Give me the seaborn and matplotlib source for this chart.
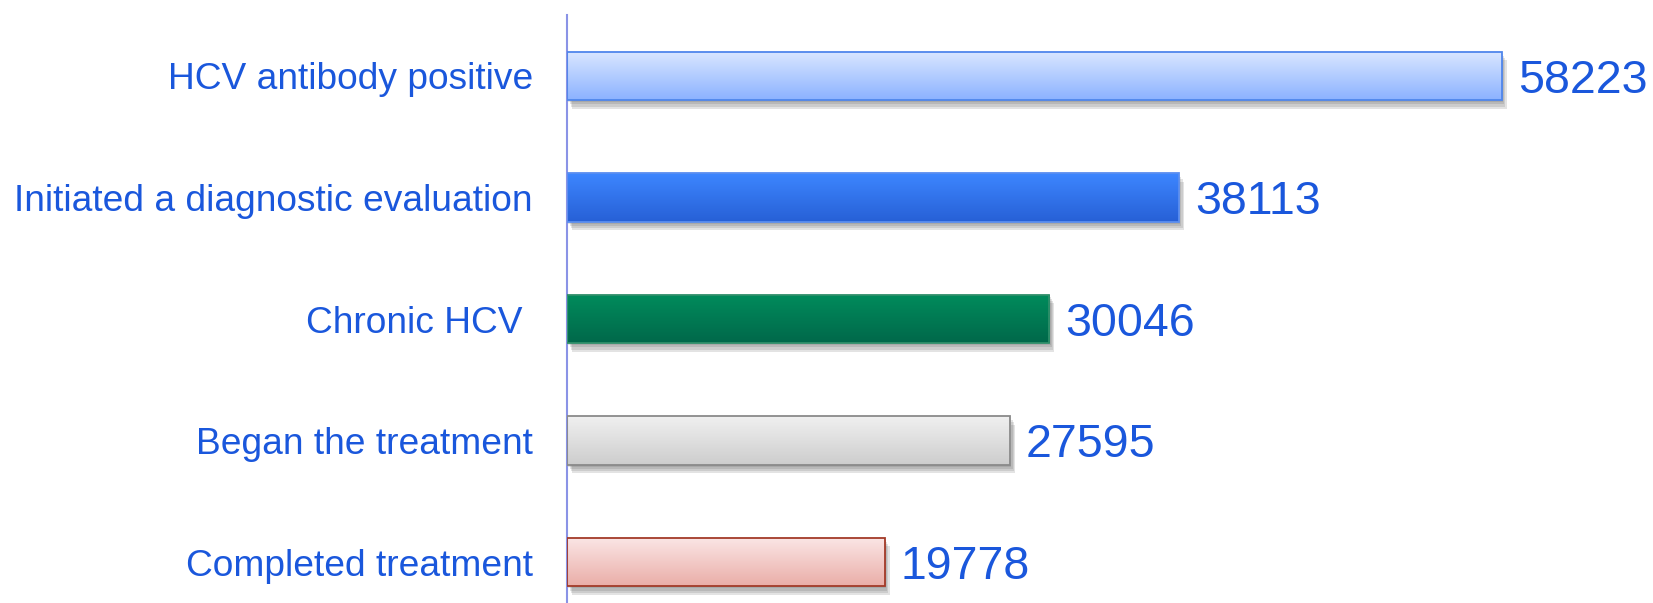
import numpy as np
import pandas as pd
import seaborn as sns
import matplotlib.pyplot as plt
import matplotlib.patheffects as pe
from matplotlib.colors import LinearSegmentedColormap

# cascade of care data
stages = [
    "HCV antibody positive",
    "Initiated a diagnostic evaluation",
    "Chronic HCV ",
    "Began the treatment",
    "Completed treatment",
]
counts = [58223, 38113, 30046, 27595, 19778]

# gradient (top, bottom) and edge colour per bar
grad_top = ["#dae7ff", "#3d86ff", "#008c5c", "#f0f0f0", "#fbe6e6"]
grad_bottom = ["#8cb2ff", "#2760d6", "#00684a", "#cdcdcd", "#eaaea8"]
edge_colors = ["#4f86ec", "#5b8ef0", "#2f8f6a", "#8a8a8a", "#a33a28"]

text_color = "#1a57dc"

sns.set_theme(style="white")
plt.rcParams["font.family"] = ["Liberation Sans", "DejaVu Sans"]

df = pd.DataFrame({"stage": stages, "count": counts})

fig = plt.figure(figsize=(16.53, 6.03), dpi=100)
ax = fig.add_axes([567 / 1653, 0, 1 - 567 / 1653, 588 / 603])

sns.barplot(data=df, x="count", y="stage", orient="h", width=0.4,
            color="white", ax=ax)

ax.set_xlim(0, (1653 - 567) / 0.016054)
ax.set_ylim(4.337, -0.502)

# soft drop shadow made of a few faint offset layers
shadow_fx = [pe.SimplePatchShadow(offset=(o * 0.6, -o), shadow_rgbFace="#555555", alpha=0.16)
             for o in (1.5, 3, 4.5, 6)]

for i, patch in enumerate(ax.patches):
    x0, y0 = patch.get_x(), patch.get_y()
    w, h = patch.get_width(), patch.get_height()
    patch.set_facecolor("none")
    patch.set_edgecolor(edge_colors[i])
    patch.set_linewidth(1.3)
    patch.set_zorder(3)

    shadow = plt.Rectangle((x0, y0), w, h, facecolor="white", edgecolor="none",
                           zorder=1, path_effects=shadow_fx)
    ax.add_patch(shadow)

    cmap = LinearSegmentedColormap.from_list("g", [grad_top[i], grad_bottom[i]])
    grad = np.linspace(0, 1, 100).reshape(-1, 1)
    img = ax.imshow(grad, cmap=cmap, aspect="auto", extent=(x0, x0 + w, y0 + h, y0),
                    zorder=2, interpolation="bilinear")
    img.set_clip_path(patch)

    ax.text(counts[i] + 1000, i + 0.04, str(counts[i]), va="center", ha="left",
            fontsize=33.5, color=text_color)

ax.set_ylim(4.337, -0.502)
ax.set_xlim(0, (1653 - 567) / 0.016054)

ax.set_xlabel("")
ax.set_ylabel("")
ax.set_xticks([])
ax.tick_params(axis="y", length=0, pad=24.5, labelsize=26.7, labelcolor=text_color)

for side in ["top", "right", "bottom"]:
    ax.spines[side].set_visible(False)
ax.spines["left"].set_color("#8a93e6")
ax.spines["left"].set_linewidth(1.5)

fig.savefig("out.png", dpi=100)
